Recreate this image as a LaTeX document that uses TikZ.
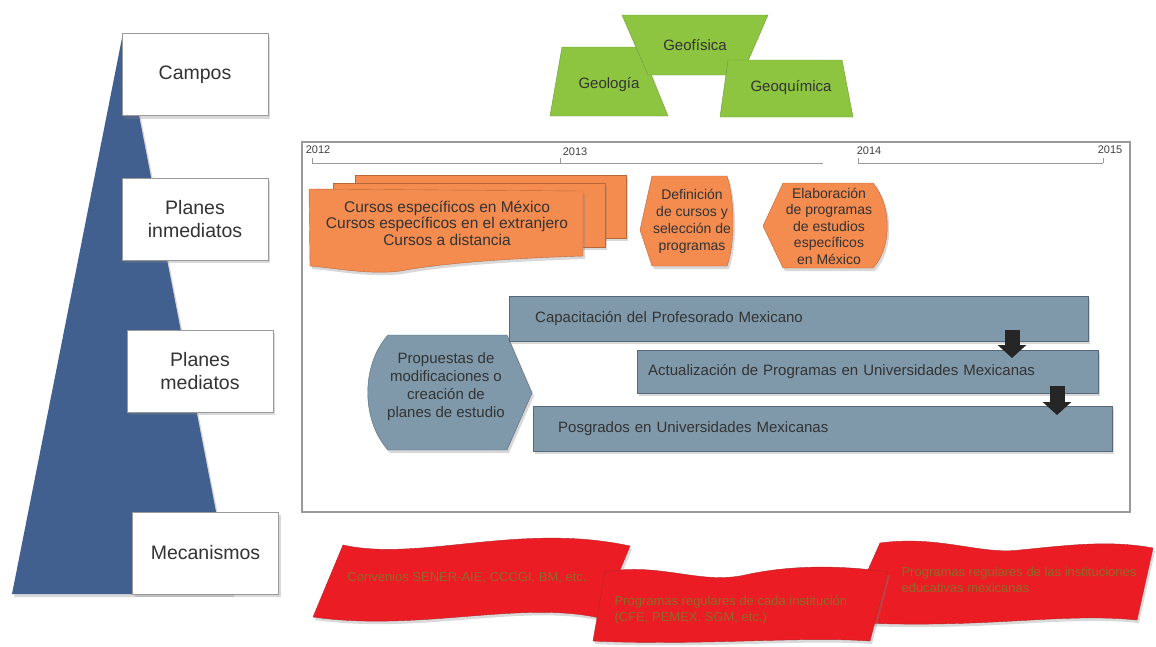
\documentclass[tikz,border=0pt]{standalone}
\usepackage{fontspec}
\setmainfont{Liberation Sans}
\usetikzlibrary{shadows,arrows.meta}

\definecolor{piramide}{HTML}{42608F}
\definecolor{verde}{HTML}{8DC540}
\definecolor{verdeb}{HTML}{6E9A38}
\definecolor{naranja}{HTML}{F48B4F}
\definecolor{naranjab}{HTML}{B9683A}
\definecolor{grisazul}{HTML}{7F99AA}
\definecolor{grisazulb}{HTML}{56697A}
\definecolor{rojo}{HTML}{EC1C24}
\definecolor{rojob}{HTML}{B3252A}
\definecolor{textorojo}{HTML}{8C6B2A}
\definecolor{texto}{HTML}{333333}
\definecolor{marco}{HTML}{9A9A9A}

\newcommand{\tam}[2]{\fontsize{#1}{#2}\selectfont}

\begin{document}
\begin{tikzpicture}[x=1pt,y=-1pt,
	sombra/.style={drop shadow={opacity=.3,shadow xshift=2pt,shadow yshift=-3pt}},
	campo/.style={fill=verde,draw=verdeb},
	curso/.style={fill=naranja,draw=naranjab,sombra},
	plan/.style={fill=grisazul,draw=grisazulb,sombra},
	banda/.style={fill=rojo,draw=rojob,sombra}]
	\useasboundingbox (0,0) rectangle (1156,646);
	
	% piramide y niveles
	\fill[piramide,sombra] (123,33) -- (232,594) -- (12,594) -- cycle;
	\begin{scope}[every node/.style={draw=marco,fill=white,sombra,minimum width=146pt,minimum height=82pt,align=center,text=texto,font=\tam{19.5}{23}}]
		\node (campos) at (195,74.5) {Campos};
		\node (inmed) at (195,219) {Planes\\inmediatos};
		\node (mediat) at (200,371) {Planes\\mediatos};
		\node (mecan) at (205.5,553) {Mecanismos};
	\end{scope}
	
	% campos
	\path[campo] (562,47) -- (640,47) -- (668,116) -- (550,116) -- cycle;
	\path[campo] (622,15) -- (768,15) -- (742,75) -- (648,75) -- cycle;
	\path[campo] (728,60) -- (842,60) -- (853,117) -- (720,117) -- cycle;
	\begin{scope}[every node/.style={text=texto,font=\tam{15}{18}}]
		\node (geologia) at (609,85) {Geología};
		\node (geofisica) at (695,45) {Geofísica};
		\node (geoquimica) at (791,88) {Geoquímica};
	\end{scope}
	
	% marco y linea de tiempo
	\draw[marco,line width=1.2pt,fill=white] (302,142) rectangle (1130,512);
	\coordinate (t12) at (312,163);
	\coordinate (t13) at (560,163);
	\coordinate (t13e) at (823,163);
	\coordinate (t14) at (858,163);
	\coordinate (t15) at (1103,163);
	\begin{scope}[draw=marco,thick]
		\draw (t12) -- (t13e);
		\draw (t14) -- (t15);
		\foreach \t in {t12,t13,t14,t15}
			\draw (\t) -- ++(0,-5);
	\end{scope}
	\begin{scope}[every node/.style={text=black!75,font=\tam{11}{12}}]
		\node (a12) at (318,150) {2012};
		\node (a13) at (575,152) {2013};
		\node (a14) at (869,151) {2014};
		\node (a15) at (1110,150) {2015};
	\end{scope}
	
	% planes inmediatos
	\path[curso] (355,175) rectangle (626,238);
	\path[curso] (333,183) rectangle (605,247);
	\path[curso] (309,189) -- (583,191) -- (583,256) .. controls (520,258) and (450,262) .. (400,271)
		.. controls (370,275) and (335,268) .. (310,266) -- cycle;
	\path[curso] (640,230) -- (652,176) -- (727,176) .. controls (735,200) and (735,245) .. (727,266)
		-- (652,266) -- cycle;
	\path[curso] (763,226) -- (783,183) -- (873,183) .. controls (892,205) and (892,248) .. (873,268)
		-- (783,268) -- cycle;
	\begin{scope}[every node/.style={align=center,text=texto}]
		\node[font=\tam{15.5}{16.5}] (cursos) at (447,223) {Cursos específicos en México\\Cursos específicos en el extranjero\\Cursos a distancia};
		\node[font=\tam{14}{17}] (defin) at (692,221) {Definición\\de cursos y\\selección de\\programas};
		\node[font=\tam{14}{16.5}] (elab) at (829,226) {Elaboración\\de programas\\de estudios\\específicos\\en México};
	\end{scope}
	
	% planes mediatos
	\path[plan] (388,335) -- (507,335) -- (532,393) -- (507,450) -- (388,450)
		.. controls (361,420) and (361,365) .. cycle;
	\node[align=center,text=texto,font=\tam{15}{18}] (propuestas) at (446,387) {Propuestas de\\modificaciones o\\creación de\\planes de estudio};
	\begin{scope}[every node/.style={plan,anchor=north west,align=left,text=texto,font=\tam{15}{18}}]
		\node[minimum height=45pt,text width=527pt,inner xsep=26pt] (capac) at (509,296) {Capacitación del Profesorado Mexicano};
		\node[minimum height=43pt,text width=439pt,inner xsep=11pt] (actual) at (637,350) {Actualización de Programas en Universidades Mexicanas};
		\node[minimum height=45pt,text width=529pt,inner xsep=25pt] (posgr) at (533,406) {Posgrados en Universidades Mexicanas};
	\end{scope}
	\coordinate (f1a) at (1012,330);
	\coordinate (f1b) at (1012,358);
	\coordinate (f2a) at (1057,386);
	\coordinate (f2b) at (1057,415);
	\begin{scope}[every path/.style={draw=black!85,line width=15pt,-{Triangle[width=28pt,length=13pt]}}]
		\draw (f1a) -- (f1b);
		\draw (f2a) -- (f2b);
	\end{scope}
	
	% mecanismos
	\path[banda] (343,545) .. controls (420,562) and (520,522) .. (630,546) -- (600,618)
		.. controls (520,600) and (420,632) .. (313,617) -- cycle;
	\path[banda] (880,543) .. controls (940,535) and (980,555) .. (1020,550) .. controls (1070,545) and (1110,540) .. (1153,548)
		-- (1137,620) .. controls (1060,612) and (980,630) .. (845,622) -- cycle;
	\path[banda] (605,572) .. controls (660,562) and (700,585) .. (745,575) .. controls (790,565) and (840,565) .. (888,572)
		-- (870,641) .. controls (800,636) and (700,646) .. (593,641) -- cycle;
	\begin{scope}[every node/.style={align=left,text=textorojo,font=\tam{13}{16}}]
		\node (conv) at (467,578) {Convenios SENER-AIE, CCCGI, BM, etc.};
		\node[anchor=west] (progcada) at (611,610) {Programas regulares de cada institución\\(CFE, PEMEX, SGM, etc.)};
		\node[anchor=west] (progedu) at (898,580) {Programas regulares de las instituciones\\educativas mexicanas};
	\end{scope}
\end{tikzpicture}
\end{document}
